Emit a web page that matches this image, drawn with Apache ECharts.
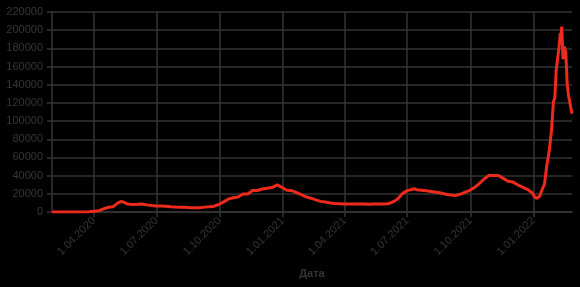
<!DOCTYPE html>
<html><head><meta charset="utf-8">
<script src="https://cdn.jsdelivr.net/npm/echarts@6/dist/echarts.min.js"></script>
<style>html,body{margin:0;padding:0;background:#000;}#c{width:580px;height:287px;}</style>
</head><body><div id="c"></div>
<script>
const dates = ['2020-01-31','2020-02-15','2020-03-01','2020-03-15','2020-03-25','2020-04-01','2020-04-08','2020-04-15','2020-04-22','2020-04-29','2020-05-06','2020-05-11','2020-05-15','2020-05-20','2020-05-27','2020-06-03','2020-06-10','2020-06-17','2020-06-24','2020-07-01','2020-07-08','2020-07-15','2020-07-22','2020-07-29','2020-08-05','2020-08-12','2020-08-19','2020-08-26','2020-09-02','2020-09-09','2020-09-16','2020-09-23','2020-09-30','2020-10-07','2020-10-14','2020-10-21','2020-10-28','2020-11-04','2020-11-11','2020-11-18','2020-11-25','2020-12-02','2020-12-09','2020-12-16','2020-12-24','2020-12-31','2021-01-07','2021-01-14','2021-01-21','2021-01-28','2021-02-04','2021-02-11','2021-02-18','2021-02-25','2021-03-04','2021-03-11','2021-03-18','2021-03-25','2021-04-01','2021-04-08','2021-04-15','2021-04-22','2021-04-29','2021-05-06','2021-05-13','2021-05-20','2021-05-27','2021-06-03','2021-06-10','2021-06-17','2021-06-24','2021-07-01','2021-07-08','2021-07-11','2021-07-15','2021-07-22','2021-07-29','2021-08-05','2021-08-12','2021-08-19','2021-08-26','2021-09-02','2021-09-09','2021-09-16','2021-09-23','2021-09-30','2021-10-07','2021-10-14','2021-10-21','2021-10-28','2021-11-04','2021-11-06','2021-11-11','2021-11-18','2021-11-25','2021-12-02','2021-12-09','2021-12-16','2021-12-23','2021-12-30','2022-01-03','2022-01-06','2022-01-10','2022-01-13','2022-01-17','2022-01-20','2022-01-24','2022-01-27','2022-01-30','2022-02-01','2022-02-03','2022-02-05','2022-02-07','2022-02-09','2022-02-10','2022-02-11','2022-02-13','2022-02-15','2022-02-17','2022-02-19','2022-02-21','2022-02-23','2022-02-25','2022-02-26'];
const cases = [2,0,0,20,160,770,1460,3390,5240,5840,10100,11650,10600,8760,8340,8540,8780,7840,7180,6550,6560,6420,5860,5480,5200,5100,4750,4680,4730,5360,5670,6430,8230,11100,14230,15700,16550,19770,19850,23600,23680,25350,26100,26900,29900,27000,24000,23500,21300,19100,16600,15200,13400,11700,11000,10000,9400,9100,8800,8700,8800,8800,8700,8400,8800,8900,8900,9000,11000,14000,20200,23500,24700,25800,24500,23900,23300,22600,21800,21000,19600,18800,18000,19500,21600,23900,26800,31300,36300,40100,40200,41300,40100,37000,33900,32900,29900,27400,25000,21100,16100,15100,17500,23800,30700,49500,67800,88800,121200,125800,155700,168200,180500,197000,190000,204000,168000,182000,175000,140000,128000,120000,112000,108000];
const xTicks = ['2020-04-01','2020-07-01','2020-10-01','2021-01-01','2021-04-01','2021-07-01','2021-10-01','2022-01-01'];
const yMax = 220000, yStep = 20000;

function toTs(s){const p=s.split('-').map(Number);return Date.UTC(p[0],p[1]-1,p[2]);}
function fmt(v){const d=new Date(v);const m=d.getUTCMonth()+1;return d.getUTCDate()+'.'+(m<10?'0'+m:m)+'.'+d.getUTCFullYear();}
const tickTs = xTicks.map(toTs);
const chart = echarts.init(document.getElementById('c'), null, {renderer:'canvas'});
chart.setOption({
  backgroundColor:'#000',
  animation:false,
  grid:{left:52,right:8,top:12,bottom:75},
  xAxis:{type:'value',min:toTs(dates[0]),max:toTs(dates[dates.length-1]),
    name:'Дата',nameLocation:'middle',nameGap:56,
    nameTextStyle:{color:'#363636',fontSize:11,fontFamily:'Liberation Sans',fontWeight:'bold'},
    axisLine:{show:true,lineStyle:{color:'#363636',width:1.5}},
    axisTick:{show:true,length:5,lineStyle:{color:'#363636',width:1.5},customValues:tickTs},
    axisLabel:{rotate:45,color:'#363636',fontSize:11,fontFamily:'Liberation Sans',customValues:tickTs,formatter:fmt,margin:7},
    splitLine:{show:true,lineStyle:{color:'#333',width:1.5}}},
  yAxis:{type:'value',min:0,max:yMax,interval:yStep,
    axisLine:{show:true,lineStyle:{color:'#363636',width:1.5}},
    axisTick:{show:true,length:5,lineStyle:{color:'#363636',width:1.5}},
    axisLabel:{color:'#363636',fontSize:11,fontFamily:'Liberation Sans',margin:9,formatter:v=>String(v)},
    splitLine:{show:true,lineStyle:{color:'#333',width:1.5}}},
  series:[{type:'line',data:dates.map((d,i)=>[toTs(d),cases[i]]),showSymbol:false,
    lineStyle:{color:'#ee2a1c',width:3},itemStyle:{color:'#ee2a1c'}}]
});
</script></body></html>
